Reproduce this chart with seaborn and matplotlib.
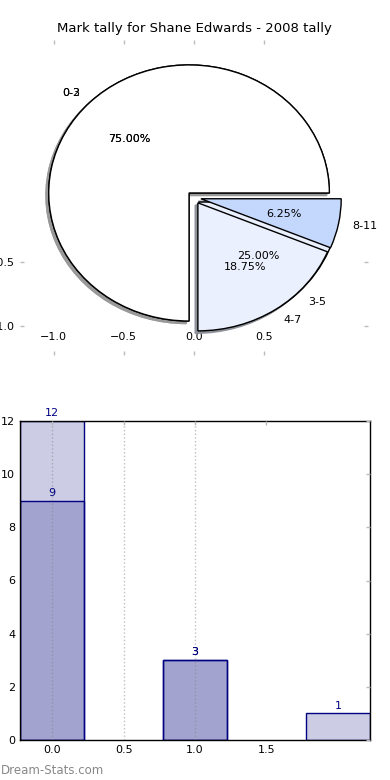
import matplotlib
matplotlib.use("Agg")
import matplotlib.pyplot as plt
import seaborn as sns
import numpy as np

title = "Mark tally for Shane Edwards - 2008 tally"

# tally in 4-mark bins
bins_a = ["0-3", "4-7", "8-11"]
counts_a = [12, 3, 1]
# tally in 3-mark bins
bins_b = ["0-2", "3-5"]
counts_b = [9, 3]

pie_colors = ["white", "#eaf0fd", "#c4d7fc"]
bar_face = (0.0, 0.0, 0.5, 0.2)

sns.set_style("white")
plt.rcParams["font.family"] = ["DejaVu Sans"]

fig = plt.figure(figsize=(3.9, 7.8), dpi=100)
ax1 = fig.add_axes([20 / 390, 1 - 355 / 780, 348 / 390, 315 / 780])
ax2 = fig.add_axes([20 / 390, 40 / 780, 350 / 390, 319 / 780])

# --- pie: two tallies drawn on top of each other
wedge_kw = dict(edgecolor="black", linewidth=1)
text_kw = dict(fontsize=8, color="black")
shadow_kw = dict(ox=-0.014, oy=-0.014, shade=0.4, alpha=0.9)
for bins, counts in [(bins_b, counts_b), (bins_a, counts_a)]:
    ax1.pie(counts, labels=bins, colors=pie_colors[:len(counts)],
            explode=[0.05] * len(counts), autopct="%.2f%%", shadow=shadow_kw,
            wedgeprops=wedge_kw, textprops=text_kw)

ax1.set_aspect("auto")
ax1.set_xlim(-1.24, 1.24)
ax1.set_ylim(-1.23, 1.23)
ax1.set_xticks([-1.0, -0.5, 0.0, 0.5])
ax1.set_yticks([-1.0, -0.5])
ax1.set_frame_on(False)
ax1.tick_params(axis="both", direction="in", top=True, right=True, bottom=True,
                left=True, color="#bbbbbb", length=3, width=1, labelsize=8,
                labelcolor="black")
ax1.tick_params(axis="x", pad=-16.5)
ax1.set_title(title, fontsize=9.5, pad=6, color="black")

# --- bars
sns.barplot(x=np.arange(len(counts_a)), y=counts_a, native_scale=True, width=0.45,
            errorbar=None, saturation=1, color="navy", ax=ax2)
sns.barplot(x=np.arange(len(counts_b)), y=counts_b, native_scale=True, width=0.45,
            errorbar=None, saturation=1, color="navy", ax=ax2)
for p in ax2.patches:
    p.set_facecolor(bar_face)
    p.set_edgecolor("navy")
    p.set_linewidth(1)
for c in ax2.containers:
    ax2.bar_label(c, color="navy", fontsize=8, padding=2)

ax2.set_xlim(-0.225, 2.225)
ax2.set_ylim(0, 12)
ax2.set_xticks([0.0, 0.5, 1.0, 1.5])
ax2.set_yticks(range(0, 13, 2))
ax2.set_xlabel("")
ax2.set_ylabel("")
ax2.grid(axis="x", color="gray", linestyle=":", linewidth=1, alpha=0.5)
ax2.set_axisbelow(False)
ax2.xaxis.get_gridlines()[-1].set_visible(False)
for s in ax2.spines.values():
    s.set_color("black")
    s.set_linewidth(1)
ax2.tick_params(axis="both", direction="in", top=True, right=True, color="#bbbbbb",
                length=3, width=1, labelsize=8, labelcolor="black")

fig.text(0.003, 1 - 771 / 780, "Dream-Stats.com", color="#888888", fontsize=8.5,
         ha="left", va="center")

fig.savefig("out.png", dpi=100)
